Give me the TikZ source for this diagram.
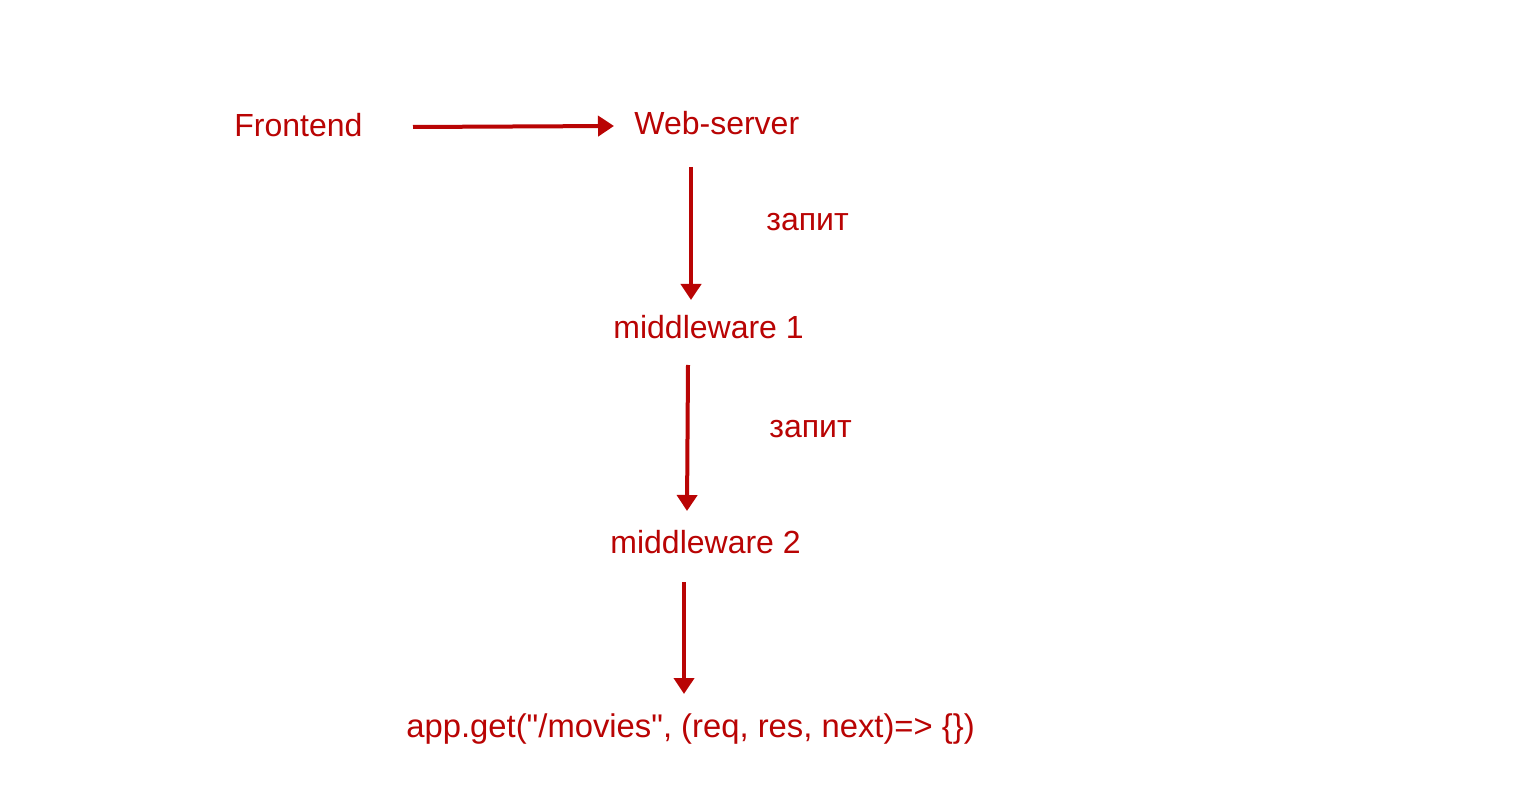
\documentclass[tikz,border=0pt]{standalone}
\usepackage{fontspec}
\setmainfont{Liberation Sans}
\newfontfamily\appfont{Liberation Sans}[Ligatures=ResetAll]
\usetikzlibrary{arrows.meta}
\definecolor{dred}{RGB}{185,4,4}
\tikzset{
  lbl/.style={text=dred, font=\fontsize{16pt}{19pt}\selectfont, inner sep=0pt, anchor=base west},
  conn/.style={draw=dred, line width=2pt, -{Triangle[width=10pt,length=8pt]}}
}
\begin{document}
\begin{tikzpicture}[x=0.5pt,y=-0.5pt]
\useasboundingbox[fill=white] (0,0) rectangle (1537,807);
\node[lbl] (fe) at (234,137) {Frontend};
\node[lbl] (ws) at (634,135) {Web-server};
\node[lbl] (m1) at (613,339) {middleware 1};
\node[lbl] (m2) at (610,553) {middleware 2};
\node[lbl, font=\appfont\fontsize{16.4pt}{19pt}\selectfont] (app) at (406,737) {app.get("/movies", (req, res, next)=> \{\})};
\node[lbl] (q1) at (766,231) {запит};
\node[lbl] (q2) at (769,438) {запит};
\coordinate (a1s) at (413,127);
\coordinate (a1e) at (614,126);
\coordinate (a2s) at (691,167);
\coordinate (a2e) at (691,300);
\coordinate (a3s) at (688,365);
\coordinate (a3e) at (687,511);
\coordinate (a4s) at (684,582);
\coordinate (a4e) at (684,694);
\draw[conn] (a1s) -- (a1e);
\draw[conn] (a2s) -- (a2e);
\draw[conn] (a3s) -- (a3e);
\draw[conn] (a4s) -- (a4e);
\end{tikzpicture}
\end{document}
